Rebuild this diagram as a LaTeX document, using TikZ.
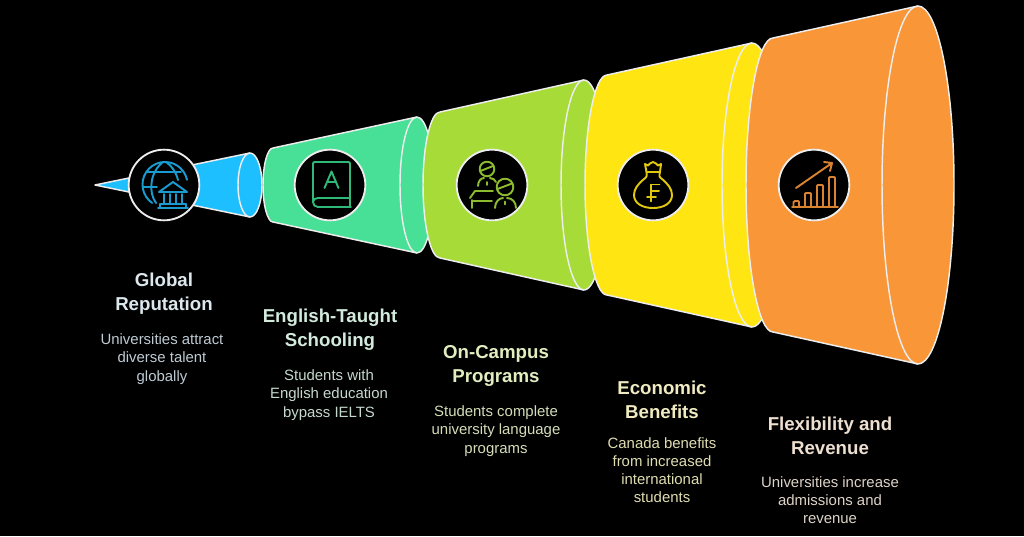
\documentclass[tikz,border=0pt]{standalone}
\usepackage{fontspec}
\setmainfont{Liberation Sans}
\usetikzlibrary{calc}
\definecolor{cblue}{HTML}{1EBFFF}
\definecolor{cgreen}{HTML}{48DF96}
\definecolor{clime}{HTML}{A6DB38}
\definecolor{cyellow}{HTML}{FFE613}
\definecolor{corange}{HTML}{F99638}
\definecolor{iblue}{HTML}{1A9BD0}
\definecolor{igreen}{HTML}{2FB877}
\definecolor{ilime}{HTML}{8DBB2F}
\definecolor{iyellow}{HTML}{E0C80F}
\definecolor{iorange}{HTML}{D98230}
\definecolor{edge}{HTML}{EDEDED}
\definecolor{tblue}{HTML}{DCE8EE}
\definecolor{tgreen}{HTML}{D3EBDD}
\definecolor{tlime}{HTML}{E2EEC0}
\definecolor{tyellow}{HTML}{F0EBC0}
\definecolor{torange}{HTML}{EEE0D0}
\definecolor{dblue}{HTML}{BECBD3}
\definecolor{dgreen}{HTML}{C5D9CE}
\definecolor{dlime}{HTML}{D5DDB8}
\definecolor{dyellow}{HTML}{E0DDB0}
\definecolor{dorange}{HTML}{DDD3C8}
\tikzset{
  body/.style={draw=edge,line width=1.1pt,line join=round},
  rim/.style={draw=edge,line width=1.1pt},
  badge/.style={circle,draw=edge,fill=black,line width=1.4pt,minimum size=53pt,inner sep=0pt},
  ico/.style={line width=1.45pt,line cap=round,line join=round},
  head/.style={align=center,font=\bfseries\fontsize{14pt}{18pt}\selectfont},
  desc/.style={align=center,font=\fontsize{11.2pt}{13.6pt}\selectfont},
}
% #1 colour, #2 left extreme, #3 left corner x, #4 corner half-height, #5 apex x, #6 apex half-height, #7 rim rx
\newcommand{\frustum}[7]{%
  \fill[#1] (#3,185-#4) -- (#5,185-#6) arc[start angle=-90,end angle=90,x radius=#7,y radius=#6]
     -- (#3,185+#4) .. controls ({#3-0.55*(#3-#2)},185+#4) and (#2,{185+0.55*#4}) .. (#2,185)
     .. controls (#2,{185-0.55*#4}) and ({#3-0.55*(#3-#2)},185-#4) .. (#3,185-#4) -- cycle;
  \draw[body] (#3,185-#4) -- (#5,185-#6) arc[start angle=-90,end angle=90,x radius=#7,y radius=#6]
     -- (#3,185+#4) .. controls ({#3-0.55*(#3-#2)},185+#4) and (#2,{185+0.55*#4}) .. (#2,185)
     .. controls (#2,{185-0.55*#4}) and ({#3-0.55*(#3-#2)},185-#4) .. (#3,185-#4) -- cycle;
  \draw[rim] (#5,185-#6) arc[start angle=-90,end angle=-270,x radius=#7,y radius=#6];
}
\begin{document}
\begin{tikzpicture}[x=0.75pt,y=-0.75pt]
\useasboundingbox (0,0) rectangle (1024,536);
\fill[black] (0,0) rectangle (1024,536);
% blue cone
\fill[cblue] (95,185) -- (250,153) arc[start angle=-90,end angle=90,x radius=12,y radius=32] -- cycle;
\draw[body] (95,185) -- (250,153) arc[start angle=-90,end angle=90,x radius=12,y radius=32] -- cycle;
\draw[rim] (250,153) arc[start angle=-90,end angle=-270,x radius=12,y radius=32];
\frustum{cgreen}{263}{273}{37}{417}{68}{17}
\frustum{clime}{423}{440}{73}{584}{105}{23}
\frustum{cyellow}{585}{607}{110}{752}{142}{30}
\frustum{corange}{746}{773}{147}{918}{179}{36}
% badges
\node[badge] (b1) at (164,185) {};
\node[badge] (b2) at (330,185) {};
\node[badge] (b3) at (492,185) {};
\node[badge] (b4) at (653,185) {};
\node[badge] (b5) at (814,185) {};
% globe and bank
\begin{scope}[ico,draw=iblue]
 \draw (187,179.8) arc[start angle=-12,end angle=-235,radius=22.5];
 \draw (163,162) .. controls (150,172) and (148,192) .. (156,203);
 \draw (166,162) .. controls (172,166) and (176,172) .. (178,180);
 \draw (147,172) -- (181,172);
 \draw (143,187) -- (157,187);
 \draw (173,182) -- (159,192) -- (187,192) -- cycle;
 \draw (160,204) -- (186,204);
 \draw (158,208) -- (188,208) (160,208) -- (160,204) (186,208) -- (186,204);
 \draw (164,194) -- (164,203) (170,194) -- (170,203) (176,194) -- (176,203) (182,194) -- (182,203);
\end{scope}
% book
\begin{scope}[ico,draw=igreen]
 \draw (350,198) -- (350,164) .. controls (350,162.5) and (349.5,162) .. (348,162) -- (315,162)
   .. controls (313.5,162) and (313,162.5) .. (313,164) -- (313,202) .. controls (313,205) and (315,207) .. (318,207) -- (351,207);
 \draw (313,202) .. controls (313,199.5) and (315,198) .. (318,198) -- (350,198) -- (350,207);
 \draw (324.5,188) -- (331.5,171.5) -- (338.5,188) (327,182) -- (336,182);
\end{scope}
% people
\begin{scope}[ico,draw=ilime]
 \draw (487,169) circle[radius=7.3];
 \draw (480.5,171) -- (493,166);
 \draw (478,186) .. controls (478,181) and (481,178) .. (484,178) (490,178) .. controls (493,178) and (495,180) .. (496,182);
 \draw (487,182) -- (487,185);
 \draw (472,208) -- (472,200) (470,198) -- (475,191) -- (493,191);
 \draw (472,201) -- (492,201);
 \draw (505,187) circle[radius=8.3];
 \draw (497.5,189) -- (512,183.5);
 \draw (495,208) .. controls (495,202) and (499,198) .. (503,198) (507,198) .. controls (512,198) and (516,202) .. (516,208);
 \draw (505,201.5) -- (505,204.5);
\end{scope}
% money bag
\begin{scope}[ico,draw=iyellow]
 \draw (645,164) -- (648,165.5) -- (650,163.5) -- (653,162) -- (656,163.5) -- (658,165.5) -- (661,164) -- (660,172) -- (646.5,172) -- cycle;
 \draw (646.5,172) .. controls (647,176) and (647,177) .. (644,179) .. controls (638,184) and (634,189) .. (634,195)
    .. controls (634,203) and (642,208) .. (653,208) .. controls (664,208) and (672,203) .. (672,195)
    .. controls (672,189) and (668,184) .. (662,179) .. controls (659,177) and (659,176) .. (660,172);
 \draw (651,201.5) -- (651,184.5) -- (659.5,184.5) (651,191) -- (659,191) (647,197) -- (656,197);
\end{scope}
% chart
\begin{scope}[ico,draw=iorange]
 \draw (792,207) -- (838,207);
 \draw (793.5,207) -- (793.5,202) .. controls (793.5,201) and (794,201) .. (795,201) -- (798,201) .. controls (799,201) and (799,202) .. (799,202) -- (799,207);
 \draw (805,207) -- (805,194) .. controls (805,193) and (806,193) .. (807,193) -- (809,193) .. controls (810,193) and (811,193) .. (811,194) -- (811,207);
 \draw (817,207) -- (817,186) .. controls (817,185) and (818,185) .. (819,185) -- (821,185) .. controls (822,185) and (823,185) .. (823,186) -- (823,207);
 \draw (829,207) -- (829,178) .. controls (829,177) and (830,177) .. (831,177) -- (833,177) .. controls (834,177) and (835,177) .. (835,178) -- (835,207);
 \draw (796,188) -- (832,163) (824,162) -- (832,163) -- (830,171);
\end{scope}
% labels
\node[head,text=tblue] (h1) at (164,294) {Global\\Reputation};
\node[desc,text=dblue] (d1) at (162,359) {Universities attract\\diverse talent\\globally};
\node[head,text=tgreen] (h2) at (330,330) {English-Taught\\Schooling};
\node[desc,text=dgreen] (d2) at (329,395) {Students with\\English education\\bypass IELTS};
\node[head,text=tlime] (h3) at (496,366) {On-Campus\\Programs};
\node[desc,text=dlime] (d3) at (496,431) {Students complete\\university language\\programs};
\node[head,text=tyellow] (h4) at (662,400) {Economic\\Benefits};
\node[desc,text=dyellow] (d4) at (662,470) {Canada benefits\\from increased\\international\\students};
\node[head,text=torange] (h5) at (830,435.5) {Flexibility and\\Revenue};
\node[desc,text=dorange] (d5) at (830,500) {Universities increase\\admissions and\\revenue};
\end{tikzpicture}
\end{document}
